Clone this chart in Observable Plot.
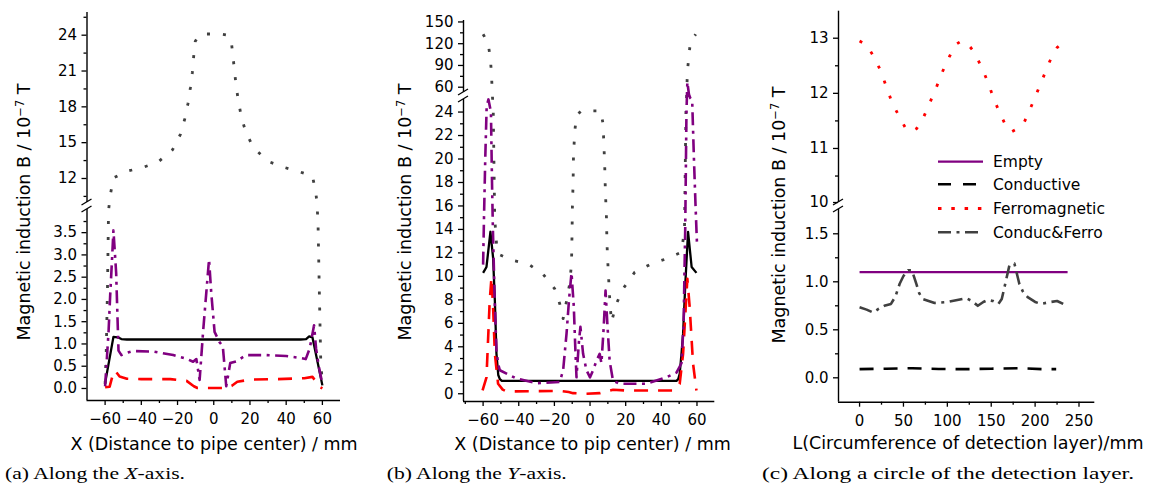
<!DOCTYPE html>
<html><head><meta charset="utf-8">
<script src="https://cdn.jsdelivr.net/npm/d3@7"></script>
<script src="https://cdn.jsdelivr.net/npm/@observablehq/plot@0.6"></script>
<style>
html,body{margin:0;padding:0;background:#fff;}
#root{position:relative;width:1154px;height:486px;overflow:hidden;background:#fff;}
#root svg{position:absolute;top:0;}
</style></head><body><div id="root"></div>
<script>
// ---------- Panel (a): along the X-axis ----------
const aEmpty = [[-60,0.12],[-55.4,1.16],[-53,1.15],[-51,1.11],[-48,1.1],[48,1.1],[51,1.11],[52.7,1.17],[54.5,1.15],[60,0.07]];
const aCond = [[-60,0.03],[-57.5,0.04],[-55.5,0.35],[-54.5,0.4],[-52,0.27],[-48,0.22],[-40,0.21],[-24,0.21],[-15,0.17],[-11,0.05],[-9,0.01],[7,0.01],[10,0.06],[13,0.15],[20,0.2],[35,0.21],[50,0.23],[54.5,0.26],[56,0.18],[58.2,0.04],[60,0.0]];
const aFerro = [[-60,0.1],[-59.4,0.8],[-58.7,2.2],[-58.1,4.0],[-57.6,9.9],[-56.9,10.8],[-55.4,12.05],[-48.1,12.6],[-39.8,12.9],[-31,13.35],[-22.8,14.4],[-18.4,15.7],[-16,17],[-14.2,18.3],[-12.9,19.6],[-11.8,20.9],[-11.1,22.2],[-10.2,23.5],[-8,24.0],[-5.1,24.1],[3.6,24.1],[7.5,24.0],[9.6,23.6],[10.5,22.4],[11.4,21.1],[12.4,19.7],[13.6,18.5],[15.3,17.1],[17.9,15.8],[21.9,14.6],[29.8,13.45],[38.4,12.95],[46.6,12.6],[54.5,12.2],[56.3,10.9],[57,9.9],[57.6,3.7],[58.4,2.0],[59.1,0.6],[60,0.1]];
const aCondFerro = [[-60,0.05],[-58.1,1.27],[-57.2,2.09],[-56.3,2.8],[-55.4,3.55],[-53.9,2.6],[-53.2,1.65],[-52.6,0.85],[-51,0.75],[-48,0.8],[-44.4,0.84],[-33.4,0.83],[-22.4,0.75],[-15.1,0.67],[-11.4,0.6],[-9.6,0.66],[-7.8,0.19],[-5.9,1.27],[-4.1,2.16],[-2.6,2.9],[-1.4,2.16],[0.45,1.27],[3.2,1.04],[5,0.95],[6.9,0.05],[9.1,0.57],[12.4,0.61],[17.9,0.75],[28.9,0.75],[39.9,0.73],[47.1,0.69],[50.8,0.66],[53,0.9],[55.4,1.42],[56.5,0.9],[58,0.5],[60,0.1]];
const aXTicks = [-60,-40,-20,0,20,40,60];
const aXMinor = [-50,-30,-10,10,30,50];
const aYTicks = [0,0.5,1,1.5,2,2.5,3,3.5,12,15,18,21,24];
const aYMinor = [0.25,0.75,1.25,1.75,2.25,2.75,3.25,3.75,10.5,13.5,16.5,19.5,22.5,25.5];

// ---------- Panel (b): along the Y-axis ----------
const bEmpty = [[-60,10.3],[-58.1,10.8],[-55.9,13.8],[-54.4,11.6],[-53.4,7.9],[-52.5,3.4],[-51.5,1.6],[-50.6,1.25],[-49.5,1.1],[48.5,1.1],[49.5,1.25],[50.3,1.7],[51.3,3.4],[52.2,5.1],[53.5,9.5],[55,13.8],[57,10.8],[59.7,10.3]];
const bCond = [[-60.3,0.28],[-58.1,1.4],[-56.3,7.9],[-55.3,9.9],[-54.4,7.4],[-53.4,3.4],[-51.6,0.85],[-49,0.35],[-46.9,0.2],[-17,0.24],[-12,0.15],[-9.5,0.05],[-2,0.0],[5.4,0.05],[9,0.2],[12.9,0.34],[20.4,0.28],[46.5,0.28],[50.3,0.85],[52.2,3.4],[54.6,9.8],[55.9,7.4],[57.8,2.56],[59.7,0.28]];
const bFerro = [[-60,133],[-57.2,121],[-55.9,99],[-55.3,78],[-54.9,55],[-54.3,24],[-53.5,15],[-52.3,12.4],[-51.6,11.9],[-43.2,11.35],[-34.8,11.07],[-26.4,10.2],[-19.8,8.94],[-17,7.67],[-15.1,6.4],[-13.2,7.9],[-11.4,9.4],[-10.4,11.1],[-10.1,13.6],[-9.9,15.9],[-9.5,18],[-9.3,20.2],[-8.6,22.3],[-7.6,23.7],[-5,24.1],[6,24.1],[7.3,23],[8.2,19.6],[8.6,17.3],[9.2,15.05],[9.5,12.8],[10.1,10.8],[11,8.2],[12,6.1],[14.8,7.67],[18.5,8.94],[25.1,10.36],[34.4,11.07],[42.8,11.5],[51.3,12.06],[53,14],[53.8,24],[54.3,55],[54.6,80.8],[55.4,101.5],[56.3,122.3],[59.3,133]];
const bCondFerro = [[-60,11],[-59.5,15],[-58.8,20],[-58,24.5],[-57,25.3],[-55.6,24],[-55,18],[-54.5,14],[-53.5,8],[-52.5,3.7],[-51.5,2.5],[-50.6,2.0],[-41.3,1.3],[-30,0.9],[-17,1.0],[-15.1,2.0],[-13.2,5.1],[-11.8,8],[-10.4,10.3],[-9.1,7.4],[-8.3,4],[-7.6,1.4],[-6.2,4.5],[-5.4,5.7],[-3.9,3.4],[-2,2.0],[0,1.4],[1.7,2.0],[3.6,2.8],[5.4,3.4],[6.4,2.6],[7.6,5.5],[8.7,8.8],[9.7,6],[11,2.8],[12.9,1.1],[16.7,0.85],[31.6,0.85],[42.8,1.4],[48.5,1.8],[51.3,2.6],[52.5,6],[53.4,14],[54.1,24],[54.4,45],[54.6,67],[55.5,45],[56.3,30],[57.3,25],[58.3,20],[59.2,16],[60,12.8]];
const bXTicks = [-60,-40,-20,0,20,40,60];
const bXMinor = [-70,-50,-30,-10,10,30,50];
const bYTicks = [0,2,4,6,8,10,12,14,16,18,20,22,24,60,90,120,150];
const bYMinor = [1,3,5,7,9,11,13,15,17,19,21,23,75,105,135];

// ---------- Panel (c): along a circle of the detection layer ----------
const cEmpty = [[0,1.1],[237,1.1]];
const cCond = [[0,0.09],[30,0.095],[60,0.1],[90,0.092],[120,0.09],[150,0.095],[180,0.1],[210,0.09],[224,0.09]];
const cFerro = [[0,12.95],[8,12.88],[15.3,12.69],[24.1,12.41],[30.5,12.12],[36.9,11.84],[45.7,11.56],[52,11.38],[58.2,11.3],[65,11.36],[72.2,11.54],[79.8,11.82],[87.3,12.1],[94.1,12.38],[102.5,12.67],[109,12.88],[116,12.95],[123,12.9],[130.1,12.76],[139.2,12.47],[146.8,12.18],[152.8,11.9],[160.5,11.62],[167,11.4],[173,11.3],[180,11.36],[187.7,11.48],[195.2,11.75],[202.8,12.04],[210.5,12.34],[218,12.63],[225,12.83],[232,12.93]];
const cCondFerro = [[0,0.735],[8,0.71],[15.3,0.68],[22,0.72],[28.2,0.75],[35.8,0.77],[41,0.85],[45.7,0.98],[50,1.06],[55.1,1.12],[59.7,1.12],[64.6,0.98],[68,0.88],[72.2,0.82],[85.5,0.78],[100.6,0.79],[121.4,0.83],[128,0.8],[134.7,0.75],[141,0.79],[146,0.81],[152,0.8],[158.2,0.77],[162,0.82],[165,0.94],[170.7,1.17],[176.4,1.19],[182,0.98],[186,0.9],[191.5,0.84],[200,0.79],[206.6,0.77],[218,0.79],[225,0.8],[232,0.77]];
const cXTicks = [0,50,100,150,200,250];
const cXMinor = [25,75,125,175,225];
const cYTicks = [0,0.5,1,1.5,10,11,12,13];
const cYMinor = [0.25,0.75,1.25,10.5,11.5,12.5];

const seriesNames = ["Empty","Conductive","Ferromagnetic","Conduc&Ferro"];
const yLabel = ["Magnetic induction B / 10", "\u22127", " T"];
const captions = [
  ["(a) Along the ", "X", "-axis."],
  ["(b) Along the ", "Y", "-axis."],
  ["(c) Along a circle of the detection layer.", "", ""]
];

// ---------- styling ----------
const FONT = "DejaVu Sans";
const COL = {purple:"#800080", red:"#ff0000", gray:"#404040", black:"#000000"};
const STY = {
  solid: {strokeWidth: 2.3, strokeLinecap: "butt"},
  dash: {strokeWidth: 2.6, strokeDasharray: "14,10", strokeLinecap: "butt"},
  dot: {strokeWidth: 2.8, strokeDasharray: "3,13", strokeLinecap: "butt"},
  dashdot: {strokeWidth: 2.6, strokeDasharray: "13,5.5,3,5.5", strokeLinecap: "butt"}
};

const root = document.getElementById("root");

// broken axis: values of the upper segment are shifted onto a continuous linear coordinate
// b = [lowest, top of lower segment, bottom of upper segment, highest]; p = pixel heights of those four stops
function brokenAxis(b, p) {
  const k1 = (p[0] - p[1]) / (b[1] - b[0]);
  const k2 = (p[2] - p[3]) / (b[3] - b[2]);
  const gapU = (p[1] - p[2]) / k1;
  return v => v <= b[1] ? v
    : v >= b[2] ? b[1] + gapU + (v - b[2]) * k2 / k1
    : b[1] + gapU * (v - b[1]) / (b[2] - b[1]);
}

function makePanel(cfg) {
  const [d0, lowTop, highBot, dTop] = cfg.yDomain;
  const f = brokenAxis(cfg.yDomain, cfg.yRange);
  const [xmin, xmax] = cfg.xDomain;
  const ax = {stroke: "black", strokeWidth: 1.4};
  const labelOf = new Map(cfg.yTicks.map(t => [f(t), cfg.yFormat(t)]));
  const marks = [
    Plot.ruleY([f(d0)], {x1: xmin, x2: xmax, ...ax}),
    Plot.ruleX([xmin], {y1: f(d0), y2: f(lowTop), ...ax}),
    Plot.ruleX([xmin], {y1: f(highBot), y2: f(dTop), ...ax}),
    Plot.axisX({ticks: cfg.xTicks, tickSize: 5, tickPadding: 8, label: null, strokeWidth: 1.3, fontSize: 15}),
    Plot.axisX({ticks: cfg.xMinor, tickSize: 3, tickFormat: () => "", label: null, strokeWidth: 1.3}),
    Plot.axisY({ticks: cfg.yTicks.map(f), tickSize: 5, tickPadding: 5, tickFormat: u => labelOf.get(u), label: null, strokeWidth: 1.3, fontSize: 15}),
    Plot.axisY({ticks: cfg.yMinor.map(f), tickSize: 3, tickFormat: () => "", label: null, strokeWidth: 1.3}),
    ...cfg.series.map(s => Plot.line(s.data, {x: d => d[0], y: d => f(d[1]), stroke: s.color, ...STY[s.style]}))
  ];
  const plot = Plot.plot({
    width: cfg.width, height: 486,
    marginLeft: cfg.ml, marginRight: cfg.mr,
    marginTop: cfg.yRange[3], marginBottom: 486 - cfg.yRange[0],
    x: {domain: cfg.xDomain},
    y: {domain: [f(d0), f(dTop)]},
    style: {fontFamily: FONT, fontSize: "15px", color: "black", background: "transparent", overflow: "visible"},
    marks
  });
  plot.style.left = cfg.left + "px";
  root.appendChild(plot);
  const svg = d3.select(plot);
  const sx = plot.scale("x"), sy = plot.scale("y");
  const px = sx.apply(xmin);
  // axis break marks
  for (const v of [lowTop, highBot]) {
    const py = sy.apply(f(v));
    svg.append("line").attr("x1", px - 5).attr("y1", py + 3).attr("x2", px + 5).attr("y2", py - 3)
      .attr("stroke", "black").attr("stroke-width", 1.3);
  }
  // y label
  const yl = svg.append("text")
    .attr("transform", `translate(${cfg.ylx + 6},${cfg.yly}) rotate(-90)`)
    .attr("text-anchor", "middle").attr("font-family", FONT).attr("font-size", 17.5).attr("fill", "black");
  yl.append("tspan").text(yLabel[0]);
  yl.append("tspan").attr("dy", -6.5).attr("font-size", 11.5).text(yLabel[1]);
  yl.append("tspan").attr("dy", 6.5).text(yLabel[2]);
  // x label
  svg.append("text").attr("x", cfg.xlx).attr("y", cfg.xly).attr("text-anchor", "middle")
    .attr("font-family", FONT).attr("font-size", 17.5).attr("fill", "black").text(cfg.xLabel);
  // caption
  const cap = svg.append("text").attr("x", cfg.capx).attr("y", 479).attr("text-anchor", "start")
    .attr("font-family", "Liberation Serif").attr("font-size", 17).attr("fill", "black")
    .attr("textLength", cfg.capw).attr("lengthAdjust", "spacingAndGlyphs");
  cap.append("tspan").text(cfg.caption[0]);
  if (cfg.caption[1]) cap.append("tspan").attr("font-style", "italic").text(cfg.caption[1]);
  if (cfg.caption[2]) cap.append("tspan").text(cfg.caption[2]);
  return svg;
}

const fmt1 = d => d < 5 ? d.toFixed(1) : String(d);

makePanel({
  left: 0, width: 380, ml: 86.5, mr: 40,
  xDomain: [-70, 70], yDomain: [-0.27, 4.02, 9.99, 25.9], yRange: [400, 209, 202, 12],
  xTicks: aXTicks, xMinor: aXMinor, yTicks: aYTicks, yMinor: aYMinor, yFormat: fmt1,
  series: [
    {data: aEmpty, color: COL.black, style: "solid"},
    {data: aCond, color: COL.red, style: "dash"},
    {data: aFerro, color: COL.gray, style: "dot"},
    {data: aCondFerro, color: COL.purple, style: "dashdot"}
  ],
  ylx: 24, yly: 212, xlx: 214, xly: 450, xLabel: "X (Distance to pipe center) / mm",
  capx: 5, capw: 180, caption: captions[0]
});

makePanel({
  left: 380, width: 380, ml: 83, mr: 45.7,
  xDomain: [-71, 70], yDomain: [-0.66, 25.07, 52.7, 152], yRange: [401, 99, 92, 20],
  xTicks: bXTicks, xMinor: bXMinor, yTicks: bYTicks, yMinor: bYMinor, yFormat: d => String(d),
  series: [
    {data: bEmpty, color: COL.black, style: "solid"},
    {data: bCond, color: COL.red, style: "dash"},
    {data: bFerro, color: COL.gray, style: "dot"},
    {data: bCondFerro, color: COL.purple, style: "dashdot"}
  ],
  ylx: 25, yly: 212, xlx: 212.5, xly: 450, xLabel: "X (Distance to pip center) / mm",
  capx: 6.7, capw: 180, caption: captions[1]
});

const svgC = makePanel({
  left: 760, width: 394, ml: 78, mr: 59.7,
  xDomain: [-24, 268], yDomain: [-0.254, 1.753, 10.02, 13.49], yRange: [401.7, 209, 202, 10.7],
  xTicks: cXTicks, xMinor: cXMinor, yTicks: cYTicks, yMinor: cYMinor, yFormat: fmt1,
  series: [
    {data: cEmpty, color: COL.purple, style: "solid"},
    {data: cCond, color: COL.black, style: "dash"},
    {data: cFerro, color: COL.red, style: "dot"},
    {data: cCondFerro, color: COL.gray, style: "dashdot"}
  ],
  ylx: 19, yly: 215, xlx: 208, xly: 449, xLabel: "L(Circumference of detection layer)/mm",
  capx: 2, capw: 372, caption: captions[2]
});

// legend in panel (c)
const legend = [
  {color: COL.purple, style: "solid", dash: null},
  {color: COL.black, style: "dash", dash: "13,12"},
  {color: COL.red, style: "dot", dash: "3.5,9.8"},
  {color: COL.gray, style: "dashdot", dash: "13,5.5,3,5.5"}
];
const rowsY = [161.7, 184.3, 208.5, 232.3];
legend.forEach((l, i) => {
  const g = svgC.append("g");
  g.append("line").attr("x1", 178).attr("x2", 223).attr("y1", rowsY[i]).attr("y2", rowsY[i])
    .attr("stroke", l.color).attr("stroke-width", STY[l.style].strokeWidth)
    .attr("stroke-dasharray", l.dash);
  g.append("text").attr("x", 233).attr("y", rowsY[i] + 5.5).attr("text-anchor", "start").attr("font-family", FONT)
    .attr("font-size", 15.5).attr("fill", "black").text(seriesNames[i]);
});
</script></body></html>
